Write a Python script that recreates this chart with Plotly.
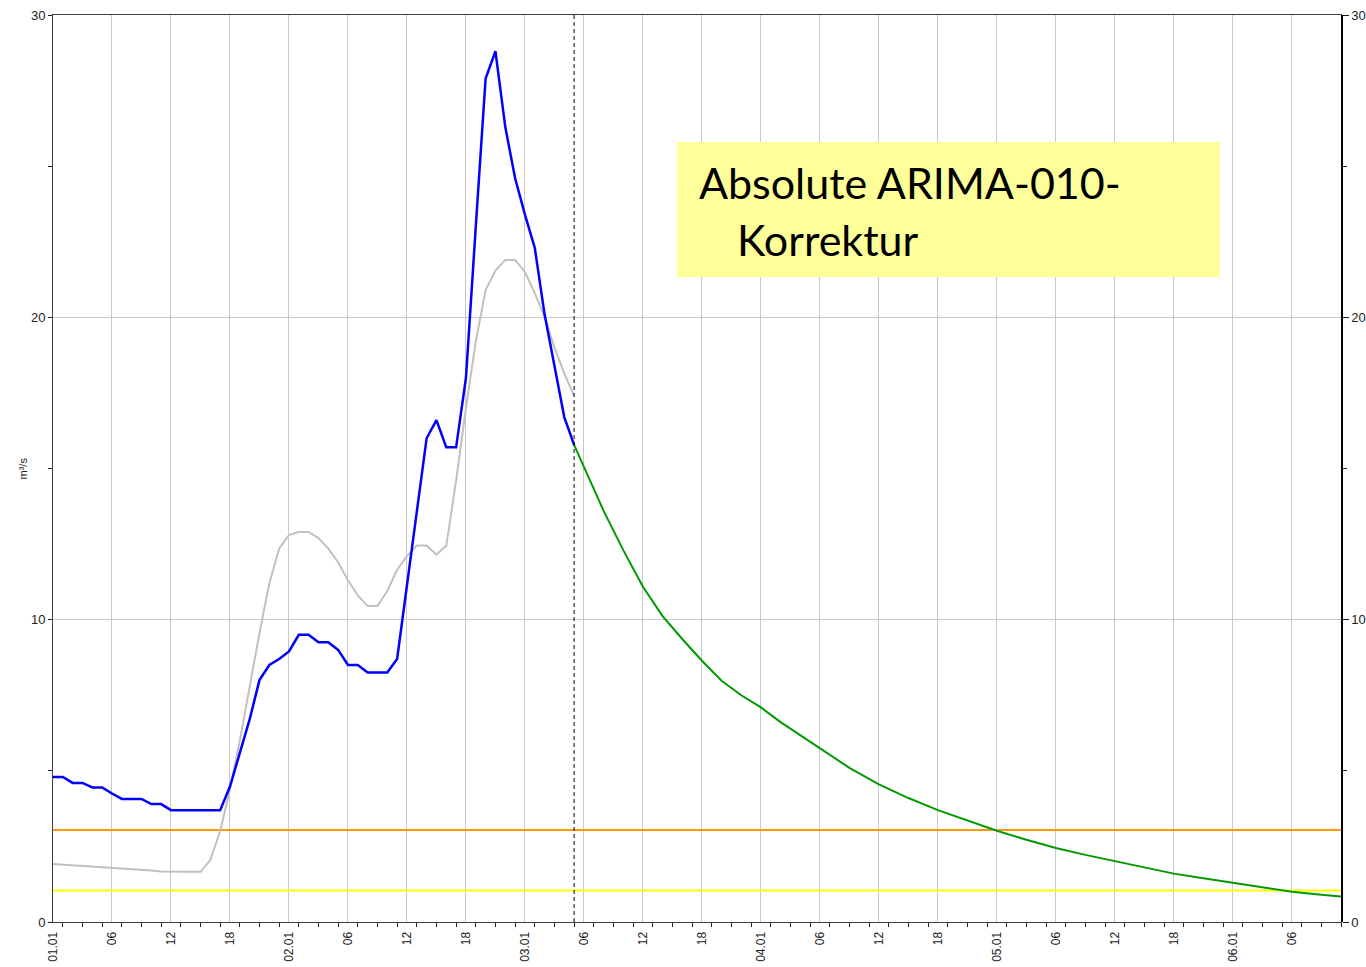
import pandas as pd
import plotly.graph_objects as go

# ---------------- data ----------------
start = pd.Timestamp("2024-01-01 00:00")
end_hours = 131
forecast_start_hours = 53

obs_hours = list(range(0, 54))
corrected_values = [4.80, 4.80, 4.60, 4.60, 4.45, 4.45, 4.25, 4.07, 4.07, 4.07,
                    3.90, 3.90, 3.70, 3.70, 3.70, 3.70, 3.70, 3.70, 4.48, 5.58,
                    6.70, 8.00, 8.50, 8.70, 8.95, 9.50, 9.50, 9.25, 9.25, 9.00,
                    8.50, 8.50, 8.25, 8.25, 8.25, 8.70, 11.10, 13.50, 16.00, 16.60,
                    15.70, 15.70, 18.00, 23.00, 27.90, 28.80, 26.30, 24.60, 23.40, 22.30,
                    20.10, 18.40, 16.70, 15.78]
simulated_values = [1.92, 1.90, 1.88, 1.86, 1.84, 1.81, 1.79, 1.77, 1.75, 1.73,
                    1.70, 1.67, 1.66, 1.66, 1.66, 1.66, 2.05, 3.00, 4.40, 6.00,
                    7.80, 9.55, 11.20, 12.35, 12.80, 12.90, 12.90, 12.70, 12.35, 11.90,
                    11.30, 10.80, 10.45, 10.45, 10.95, 11.65, 12.10, 12.45, 12.45, 12.15,
                    12.45, 14.60, 17.00, 19.20, 20.90, 21.55, 21.90, 21.90, 21.50, 20.80,
                    20.00, 19.00, 18.15, 17.40]

fc_hours = [53, 54, 56, 58, 60, 62, 64, 66, 68, 70, 72, 74, 76, 78, 81, 84, 87, 90,
            93, 96, 99, 102, 105, 108, 111, 114, 117, 120, 123, 126, 129, 131]
forecast_values = [15.78, 15.05, 13.60, 12.30, 11.09, 10.12, 9.36, 8.64, 7.98, 7.50,
                   7.10, 6.61, 6.18, 5.74, 5.10, 4.55, 4.10, 3.70, 3.35, 3.02, 2.72,
                   2.45, 2.22, 2.02, 1.80, 1.60, 1.45, 1.30, 1.15, 1.00, 0.90, 0.84]

thresholds = [3.04, 1.04]
threshold_colors = ["#FF9900", "#FFFF00"]

x_tick_hours = list(range(0, 127, 6))
x_tick_labels = ["01.01", "06", "12", "18", "02.01", "06", "12", "18",
                 "03.01", "06", "12", "18", "04.01", "06", "12", "18",
                 "05.01", "06", "12", "18", "06.01", "06"]
x_minor_hours = list(range(1, 132, 2))
y_tick_vals = [0, 10, 20, 30]
y_minor_vals = [5, 15, 25]
y_title = "m³/s"
box_lines = ["Absolute ARIMA-010-", "Korrektur"]


def t(hours):
    return [start + pd.Timedelta(hours=h) for h in hours]


fig = go.Figure()

for val, col in zip(thresholds, threshold_colors):
    fig.add_trace(go.Scatter(x=t([0, end_hours]), y=[val, val], mode="lines",
                             line=dict(color=col, width=2), hoverinfo="skip"))

fig.add_trace(go.Scatter(x=t(obs_hours), y=simulated_values, mode="lines",
                         line=dict(color="#C0C0C0", width=2)))
fig.add_trace(go.Scatter(x=t(obs_hours), y=corrected_values, mode="lines",
                         line=dict(color="#0000FF", width=2.5)))
fig.add_trace(go.Scatter(x=t(fc_hours), y=forecast_values, mode="lines",
                         line=dict(color="#009900", width=2)))
# invisible trace for right axis
fig.add_trace(go.Scatter(x=t([0]), y=[0], yaxis="y2", mode="markers",
                         marker=dict(opacity=0), hoverinfo="skip"))

fc_t = t([forecast_start_hours])[0]
fig.add_shape(type="line", x0=fc_t, x1=fc_t, y0=0, y1=1, yref="paper", xref="x",
              line=dict(color="black", width=1, dash="4px,3px"))

tick_font = dict(family="Liberation Sans, Arial, sans-serif", size=12, color="#222222")
ytick_font = dict(family="Liberation Sans, Arial, sans-serif", size=13, color="#222222")

fig.update_layout(
    width=1366, height=967,
    margin=dict(l=53, r=25, t=15, b=45),
    plot_bgcolor="white", paper_bgcolor="white",
    showlegend=False,
    xaxis=dict(
        type="date", automargin=False,
        range=[start, t([end_hours])[0]],
        tickmode="array", tickvals=t(x_tick_hours), ticktext=x_tick_labels,
        tickangle=-90, tickfont=tick_font,
        ticks="outside", ticklen=4, tickcolor="rgba(0,0,0,0)",
        showgrid=True, gridcolor="#C8C8C8", gridwidth=1,
        showline=True, linecolor="#404040", linewidth=1, mirror=True,
        minor=dict(tickmode="array", tickvals=t(x_minor_hours), ticks="outside",
                   ticklen=4, tickcolor="#222222", showgrid=False),
        zeroline=False,
    ),
    yaxis=dict(
        range=[0, 30], tickmode="array", tickvals=y_tick_vals, automargin=False,
        tickfont=ytick_font, ticks="outside", ticklen=4, tickcolor="#222222",
        showgrid=True, gridcolor="#C8C8C8", gridwidth=1,
        showline=True, linecolor="#404040", linewidth=1, mirror=True,
        zeroline=False,
        minor=dict(tickmode="array", tickvals=y_minor_vals, ticks="outside",
                   ticklen=4, tickcolor="#222222", showgrid=False),
    ),
    yaxis2=dict(
        range=[0, 30], overlaying="y", side="right", tickmode="array", automargin=False,
        tickvals=y_tick_vals, tickfont=ytick_font, ticks="outside", ticklen=6,
        tickcolor="#222222", showgrid=False, zeroline=False,
        showline=True, linecolor="black", linewidth=1.5,
        minor=dict(tickmode="array", tickvals=y_minor_vals, ticks="outside",
                   ticklen=4, tickcolor="#222222"),
    ),
)

fig.add_annotation(text=y_title, xref="paper", yref="paper", x=(14 - 53) / 1288, y=0.5,
                   textangle=-90, showarrow=False,
                   font=dict(family="Liberation Sans, Arial, sans-serif", size=11, color="#222222"))

# yellow text box
fig.add_shape(type="rect", xref="paper", yref="paper",
              x0=(677 - 53) / 1288, x1=(1220 - 53) / 1288,
              y0=(922 - 277) / 907, y1=(922 - 142) / 907,
              fillcolor="#FFFF99", line=dict(width=0), layer="above")
box_font = dict(family="Lato, Carlito, Calibri, sans-serif", size=43, color="black")
fig.add_annotation(text=box_lines[0], xref="paper", yref="paper",
                   x=(697 - 53) / 1288, y=(922 - 182) / 907, xanchor="left", yanchor="middle",
                   showarrow=False, font=box_font)
fig.add_annotation(text=box_lines[1], xref="paper", yref="paper",
                   x=(735 - 53) / 1288, y=(922 - 239) / 907, xanchor="left", yanchor="middle",
                   showarrow=False, font=box_font)

fig.write_html("out.html")
